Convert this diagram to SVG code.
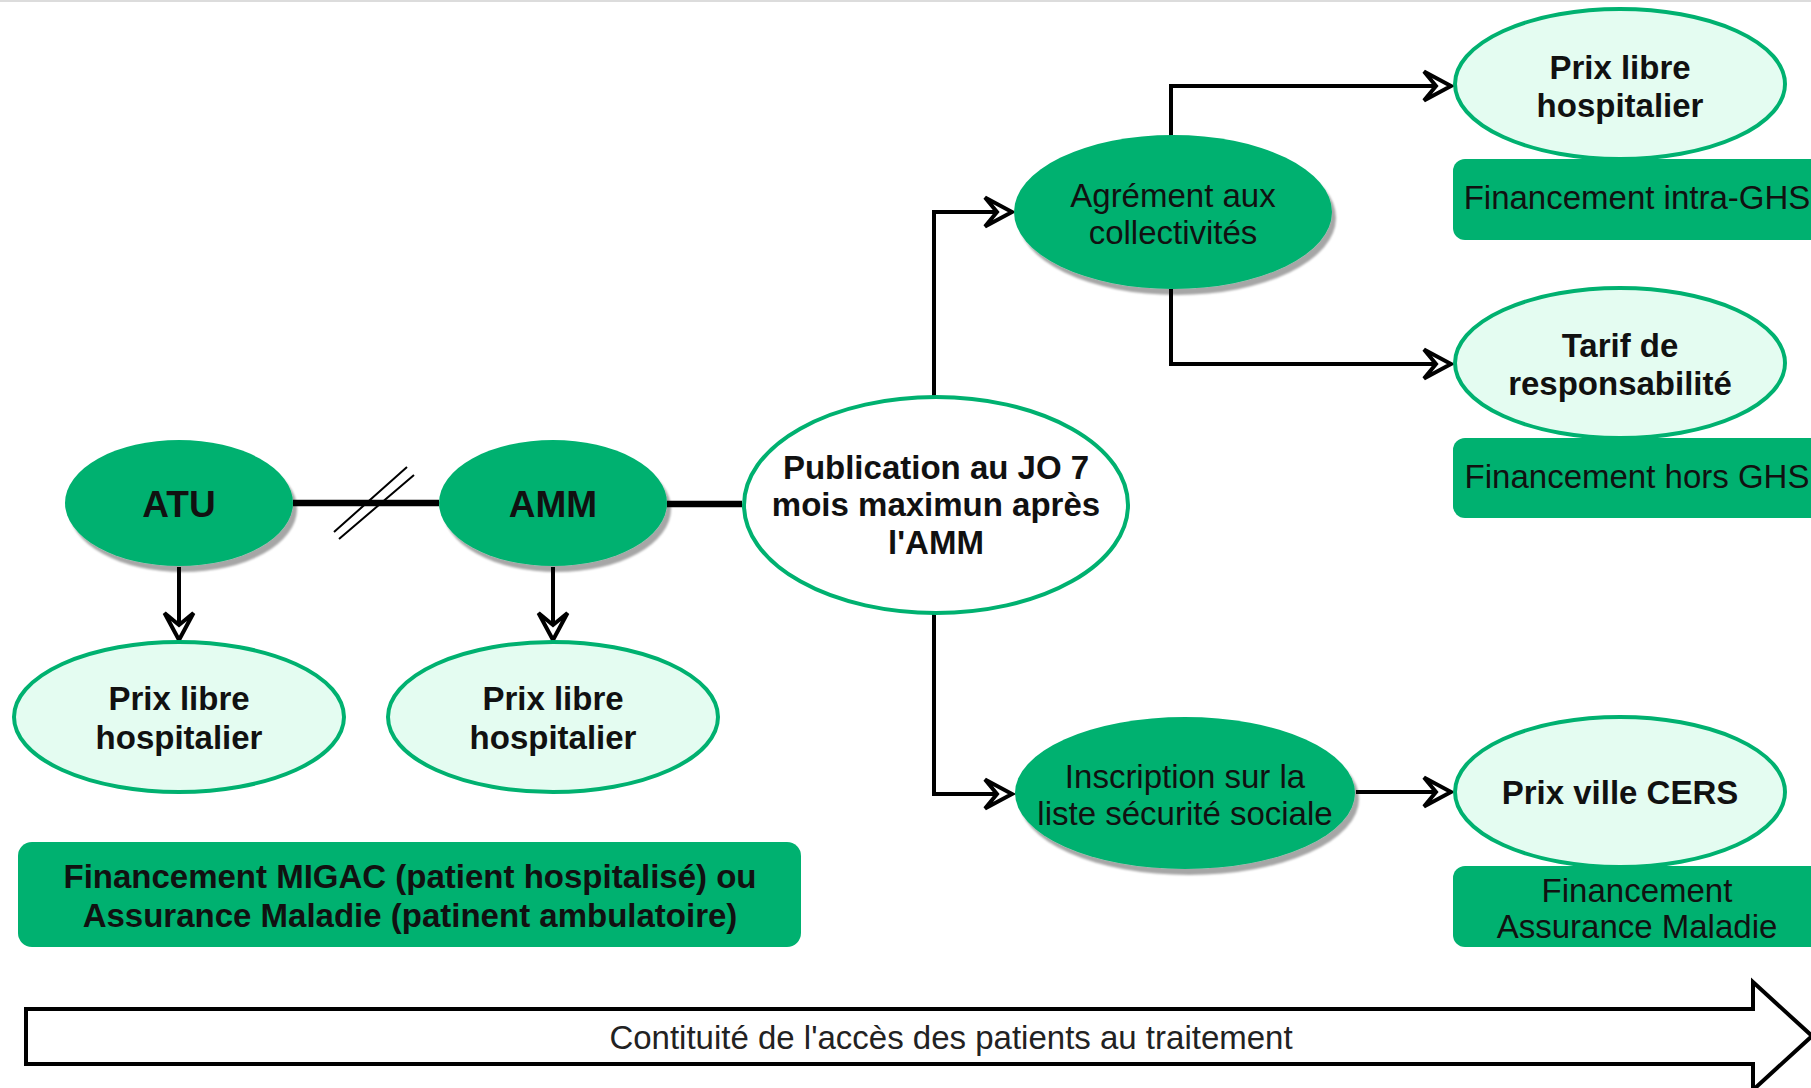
<svg xmlns="http://www.w3.org/2000/svg" width="1811" height="1088" viewBox="0 0 1811 1088">
  <style>
    text { font-family: "Liberation Sans", Arial, sans-serif; font-size: 33px; text-anchor: middle; fill: #111; }
    .b { font-weight: bold; }
    .big { font-size: 37px; }
    .solid { fill: #00b170; }
    .light { fill: #e4fcf1; stroke: #00b170; stroke-width: 4; }
    .open { fill: #ffffff; stroke: #00b170; stroke-width: 4; }
    .conn { fill: none; stroke: #000; stroke-width: 4; marker-end: url(#arr); }
    .thick { fill: none; stroke: #000; stroke-width: 6.5; }
    .box { fill: #00b170; }
  </style>
  <defs>
    <filter id="shadow" x="-20%" y="-20%" width="140%" height="150%">
      <feDropShadow dx="4" dy="6" stdDeviation="1.2" flood-color="#000" flood-opacity="0.35"/>
    </filter>
    <marker id="arr" markerUnits="userSpaceOnUse" markerWidth="44" markerHeight="44" viewBox="-20 -22 44 44" refX="0" refY="0" orient="auto" overflow="visible">
      <path d="M15,0 L-12,-14.5 L0,0 L-12,14.5 Z" fill="#fff" stroke="#000" stroke-width="4" stroke-linejoin="miter"/>
    </marker>
  </defs>

  <rect width="1811" height="1088" fill="#ffffff"/>
  <rect x="0" y="0" width="1811" height="2" fill="#dcdcdc"/>

  <!-- connectors -->
  <g id="connectors">
    <path class="thick" d="M293,503 H439"/>
    <path d="M334,532 L407,467 M339,539 L414,475" stroke="#000" stroke-width="2" fill="none"/>
    <path class="thick" d="M667,504 H742"/>
    <path class="conn" d="M179,567 V625"/>
    <path class="conn" d="M553,567 V625"/>
    <path class="conn" d="M934,396 V212 H997"/>
    <path class="conn" d="M934,614 V794 H997"/>
    <path class="conn" d="M1171,136 V86 H1436"/>
    <path class="conn" d="M1171,289 V364 H1436"/>
    <path class="conn" d="M1356,792 H1436"/>
  </g>

  <!-- left branch -->
  <g id="atu">
    <ellipse class="solid" cx="179" cy="503" rx="114" ry="63" filter="url(#shadow)"/>
    <text class="b big" x="179" y="517">ATU</text>
  </g>
  <g id="amm">
    <ellipse class="solid" cx="553" cy="503" rx="114" ry="63" filter="url(#shadow)"/>
    <text class="b big" x="553" y="517">AMM</text>
  </g>
  <g id="prix-atu">
    <ellipse class="light" cx="179" cy="717" rx="165" ry="75"/>
    <text class="b" x="179" y="710">Prix libre</text>
    <text class="b" x="179" y="749">hospitalier</text>
  </g>
  <g id="prix-amm">
    <ellipse class="light" cx="553" cy="717" rx="165" ry="75"/>
    <text class="b" x="553" y="710">Prix libre</text>
    <text class="b" x="553" y="749">hospitalier</text>
  </g>
  <g id="migac">
    <rect class="box" x="18" y="842" width="783" height="105" rx="14"/>
    <text class="b" x="410" y="888">Financement MIGAC (patient hospitalisé) ou</text>
    <text class="b" x="410" y="927">Assurance Maladie (patinent ambulatoire)</text>
  </g>

  <!-- publication -->
  <g id="publication">
    <ellipse class="open" cx="936" cy="505" rx="192" ry="108"/>
    <text class="b" x="936" y="479">Publication au JO 7</text>
    <text class="b" x="936" y="516">mois maximun après</text>
    <text class="b" x="936" y="554">l'AMM</text>
  </g>

  <!-- upper branch -->
  <g id="agrement">
    <ellipse class="solid" cx="1173" cy="212" rx="159" ry="77" filter="url(#shadow)"/>
    <text x="1173" y="207">Agrément aux</text>
    <text x="1173" y="244">collectivités</text>
  </g>
  <g id="prix-hosp">
    <ellipse class="light" cx="1620" cy="84" rx="165" ry="75"/>
    <text class="b" x="1620" y="79">Prix libre</text>
    <text class="b" x="1620" y="117">hospitalier</text>
  </g>
  <g id="intra-ghs">
    <rect class="box" x="1453" y="159" width="370" height="81" rx="12"/>
    <text x="1637" y="209">Financement intra-GHS</text>
  </g>
  <g id="tarif">
    <ellipse class="light" cx="1620" cy="363" rx="165" ry="75"/>
    <text class="b" x="1620" y="357">Tarif de</text>
    <text class="b" x="1620" y="395">responsabilité</text>
  </g>
  <g id="hors-ghs">
    <rect class="box" x="1453" y="438" width="370" height="80" rx="12"/>
    <text x="1637" y="488">Financement hors GHS</text>
  </g>

  <!-- lower branch -->
  <g id="inscription">
    <ellipse class="solid" cx="1185" cy="793" rx="170" ry="76" filter="url(#shadow)"/>
    <text x="1185" y="788">Inscription sur la</text>
    <text x="1185" y="825">liste sécurité sociale</text>
  </g>
  <g id="cers">
    <ellipse class="light" cx="1620" cy="792" rx="165" ry="75"/>
    <text class="b" x="1620" y="804">Prix ville CERS</text>
  </g>
  <g id="assurance">
    <rect class="box" x="1453" y="866" width="370" height="81" rx="12"/>
    <text x="1637" y="902">Financement</text>
    <text x="1637" y="938">Assurance Maladie</text>
  </g>

  <!-- timeline arrow -->
  <g id="timeline">
    <path d="M26,1009 H1753 V982 L1812,1036 L1753,1090 V1064 H26 Z" fill="#fff" stroke="#000" stroke-width="4" stroke-linejoin="miter"/>
    <text x="951" y="1049" style="fill:#222">Contituité de l'accès des patients au traitement</text>
  </g>
</svg>
